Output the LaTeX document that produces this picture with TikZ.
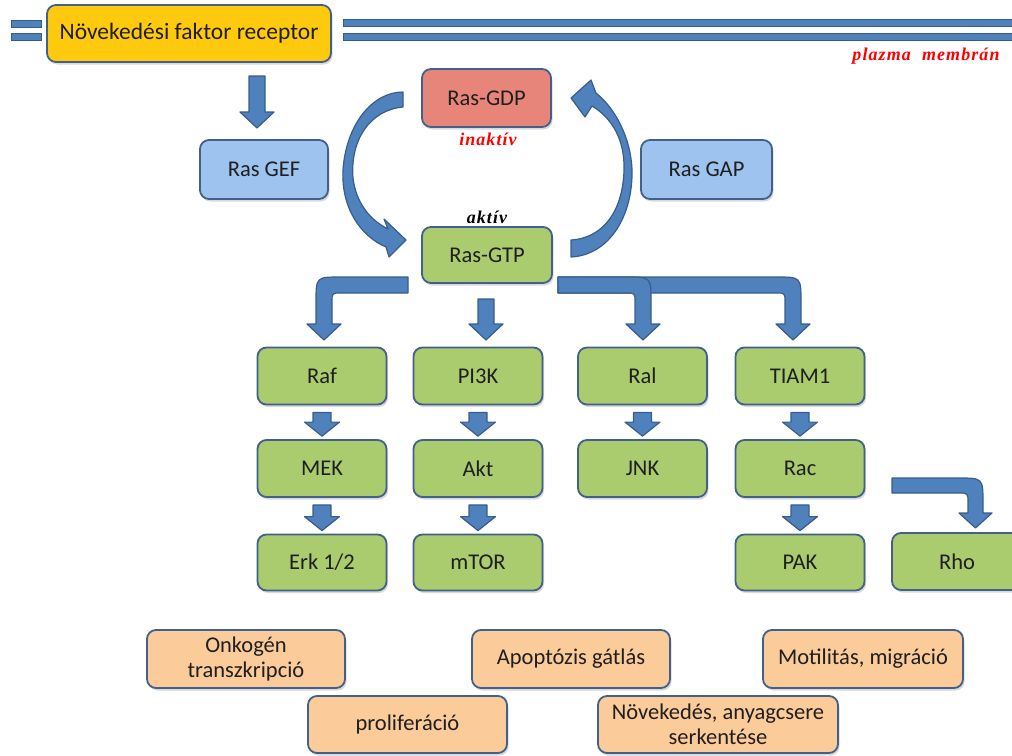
\documentclass[tikz,border=0pt]{standalone}
\usepackage{fontspec}
\setmainfont{Carlito}
\newfontfamily\labfont[LetterSpace=6]{Liberation Serif}
\usetikzlibrary{shadows,calc}
\definecolor{bord}{HTML}{41618C}
\definecolor{arrfill}{HTML}{4F81BD}
\definecolor{arrbord}{HTML}{385D8A}
\definecolor{gold}{HTML}{FFC90E}
\definecolor{salmon}{HTML}{E8857A}
\definecolor{grn}{HTML}{ABCB6F}
\definecolor{lblue}{HTML}{9DC3EE}
\definecolor{peach}{HTML}{FBCB9A}
\definecolor{labred}{HTML}{FF0000}
\tikzset{
  box/.style={draw=bord, line width=1.8pt, rounded corners=9pt, text=black!88,
    font=\fontsize{22.5}{25}\selectfont, align=center, inner sep=0pt,
    drop shadow={shadow xshift=1.5pt, shadow yshift=-2.5pt, opacity=.3}},
  gbox/.style={box, fill=grn, minimum width=129pt, minimum height=57pt},
  obox/.style={box, fill=peach, font=\fontsize{22.5}{25}\selectfont},
  barrow/.style={fill=arrfill, draw=arrbord, line width=1.2pt, line join=round},
  memb/.style={fill=arrfill, draw=arrbord, line width=1pt},
  lab/.style={font=\labfont\bfseries\itshape\fontsize{18}{20}\selectfont, inner sep=0pt}
}
\newcommand\dnarrow[2]{%
  \filldraw[barrow] let \p1=(#1.south), \p2=(#2.north) in
    (\x1-9pt,\y1-7pt) -- (\x1-9pt,\y2+17pt) -- (\x1-17.5pt,\y2+17pt) -- (\x1,\y2+3pt)
    -- (\x1+17.5pt,\y2+17pt) -- (\x1+9pt,\y2+17pt) -- (\x1+9pt,\y1-7pt) -- cycle;}
\begin{document}
\begin{tikzpicture}[x=1pt,y=-1pt]
\useasboundingbox (0,0) rectangle (1012,755);
\clip (0,0) rectangle (1012,755);
% membrane
\filldraw[memb] (11,20) rectangle (41,27);
\filldraw[memb] (11,33) rectangle (41,40);
\filldraw[memb] (343,19) rectangle (1020,26);
\filldraw[memb] (343,33) rectangle (1020,40);
\node[lab, text=labred] (pm) at (926,56) {plazma\ \ membrán};
% receptor
\node[box, fill=gold, minimum width=284pt, minimum height=57pt, font=\fontsize{23.5}{26}\selectfont] (rec) at (189,33.5) {Növekedési faktor receptor};
% Ras boxes
\node[box, fill=salmon, minimum width=129pt, minimum height=58pt] (gdp) at (486.5,98) {Ras-GDP};
\node[box, fill=grn, minimum width=130pt, minimum height=56pt] (gtp) at (487,255) {Ras-GTP};
\node[box, fill=lblue, minimum width=128pt, minimum height=59pt] (gef) at (264,169.5) {Ras GEF};
\node[box, fill=lblue, minimum width=131pt, minimum height=59pt] (gap) at (706.5,169.5) {Ras GAP};
\node[lab, text=labred] (inakt) at (488,139) {inaktív};
\node[lab, text=black] (akt) at (487,217) {aktív};
% receptor arrow
\filldraw[barrow] (249,76) -- (249,112) -- (240,112) -- (257,128) -- (274,112) -- (265,112) -- (265,76) -- cycle;
% left curved arrow GDP -> GTP
\filldraw[barrow] (403,92) -- (403,107)
  .. controls (370,110) and (350,140) .. (353,178)
  .. controls (356,203) and (370,220) .. (388,229)
  -- (384,219) -- (406,240) -- (389,257) -- (386,247)
  .. controls (360,236) and (341,207) .. (343,170)
  .. controls (346,125) and (372,92) .. (403,92) -- cycle;
% right curved arrow GTP -> GDP
\filldraw[barrow] (571,240) -- (571,257)
  .. controls (610,255) and (633,215) .. (632,170)
  .. controls (631,138) and (615,108) .. (596,93)
  -- (591,80) -- (571,98) -- (585,117) -- (592,106)
  .. controls (612,118) and (625,140) .. (624,170)
  .. controls (623,210) and (604,238) .. (571,240) -- cycle;
% green boxes
\node[gbox] (raf) at (322,376) {Raf};
\node[gbox] (pi3k) at (478,376) {PI3K};
\node[gbox] (ral) at (642.5,376) {Ral};
\node[gbox] (tiam) at (800,376) {TIAM1};
\node[gbox] (mek) at (322,468.5) {MEK};
\node[gbox] (akt2) at (478,468.5) {Akt};
\node[gbox] (jnk) at (642.5,468.5) {JNK};
\node[gbox] (rac) at (800,468.5) {Rac};
\node[gbox, minimum height=56pt] (erk) at (322,562.5) {Erk 1/2};
\node[gbox, minimum height=56pt] (mtor) at (478,562.5) {mTOR};
\node[gbox, minimum height=56pt] (pak) at (800,562.5) {PAK};
\node[gbox, minimum height=57pt, minimum width=130pt] (rho) at (957,561.5) {Rho};
% branch arrows from Ras-GTP
\filldraw[barrow] (558,277) -- (776,277) .. controls (801,277) .. (801,302) -- (801,324) -- (810,324) -- (793,340) -- (776,324) -- (785,324) -- (785,302) .. controls (785,293) .. (776,293) -- (558,293) -- cycle;
\filldraw[barrow] (558,277) -- (626,277) .. controls (651,277) .. (651,302) -- (651,324) -- (660,324) -- (643,340) -- (626,324) -- (635,324) -- (635,302) .. controls (635,293) .. (626,293) -- (558,293) -- cycle;
\filldraw[barrow] (408,277) -- (341,277) .. controls (316,277) .. (316,302) -- (316,324) -- (307,324) -- (324,340) -- (341,324) -- (332,324) -- (332,302) .. controls (332,293) .. (341,293) -- (408,293) -- cycle;
\filldraw[barrow] (478,299) -- (478,324) -- (469,324) -- (486,340) -- (503,324) -- (494,324) -- (494,299) -- cycle;
% small arrows
\dnarrow{raf}{mek}
\dnarrow{mek}{erk}
\dnarrow{pi3k}{akt2}
\dnarrow{akt2}{mtor}
\dnarrow{ral}{jnk}
\dnarrow{tiam}{rac}
\dnarrow{rac}{pak}
% Rac -> Rho
\filldraw[barrow] (892,478) -- (958,478) .. controls (983,478) .. (983,503) -- (983,513) -- (992,513) -- (975.5,528) -- (959,513) -- (968,513) -- (968,503) .. controls (968,493) .. (958,493) -- (892,493) -- cycle;
% outcome boxes
\node[obox, minimum width=198pt, minimum height=58pt] (onko) at (246,659) {Onkogén\\transzkripció};
\node[obox, minimum width=199pt, minimum height=57pt] (prol) at (407.5,724.5) {proliferáció};
\node[obox, minimum width=198pt, minimum height=58pt] (apop) at (571,659) {Apoptózis gátlás};
\node[obox, minimum width=240pt, minimum height=57pt] (nov) at (718,724.5) {Növekedés, anyagcsere\\serkentése};
\node[obox, minimum width=200pt, minimum height=58pt] (mot) at (863,659) {Motilitás, migráció};
\end{tikzpicture}
\end{document}
